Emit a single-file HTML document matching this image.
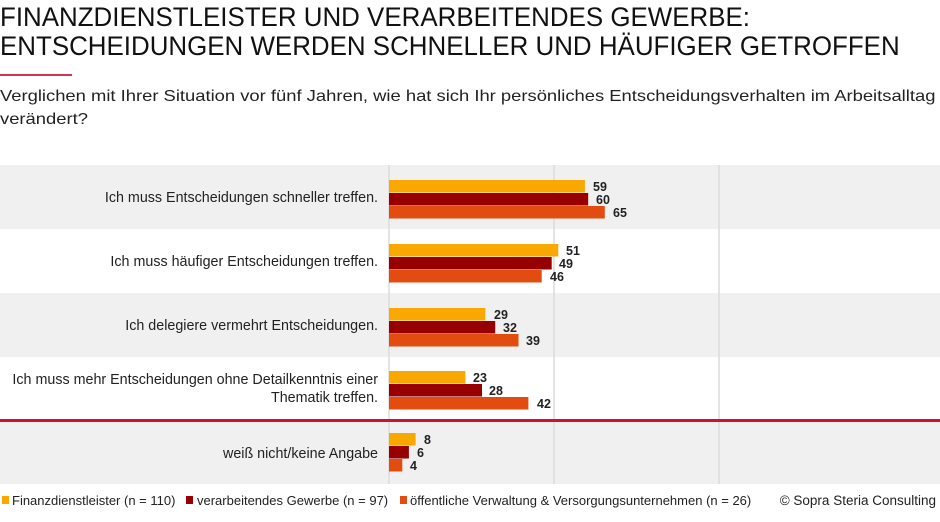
<!DOCTYPE html>
<html><head><meta charset="utf-8"><style>
body{margin:0;width:940px;height:517px;background:#fff;overflow:hidden;font-family:"Liberation Sans",sans-serif}
</style></head><body>
<svg width="940" height="517" xmlns="http://www.w3.org/2000/svg" font-family="Liberation Sans, sans-serif">
<g fill="#111" font-size="27" transform="scale(0.96,1)">
<text x="0" y="26">FINANZDIENSTLEISTER UND VERARBEITENDES GEWERBE:</text>
<text x="0" y="55">ENTSCHEIDUNGEN WERDEN SCHNELLER UND HÄUFIGER GETROFFEN</text>
</g>
<rect x="0" y="74" width="72" height="2" fill="#d6334f"/>
<g fill="#222" font-size="16" transform="scale(1.15,1)">
<text x="0" y="101">Verglichen mit Ihrer Situation vor fünf Jahren, wie hat sich Ihr persönliches Entscheidungsverhalten im Arbeitsalltag</text>
<text x="0" y="124">verändert?</text>
</g>
<rect x="0" y="165" width="940" height="64" fill="#f0f0f0"/>
<rect x="0" y="293" width="940" height="64" fill="#f0f0f0"/>
<rect x="0" y="421" width="940" height="63" fill="#f0f0f0"/>
<g stroke="#dcdcdc" stroke-width="1.5">
<line x1="389" y1="165" x2="389" y2="484"/><line x1="554" y1="165" x2="554" y2="484"/><line x1="719" y1="165" x2="719" y2="484"/>
</g>
<rect x="0" y="419" width="940" height="3" fill="#d0102e"/>
<g font-size="14.3" fill="#222" text-anchor="end">
<text x="378" y="202">Ich muss Entscheidungen schneller treffen.</text>
<text x="378" y="266">Ich muss häufiger Entscheidungen treffen.</text>
<text x="378" y="330">Ich delegiere vermehrt Entscheidungen.</text>
<text x="378" y="384">Ich muss mehr Entscheidungen ohne Detailkenntnis einer</text>
<text x="378" y="402">Thematik treffen.</text>
<text x="378" y="458">weiß nicht/keine Angabe</text>
</g>
<g font-size="12.5" font-weight="bold" fill="#222">
<rect x="389" y="180" width="195.9" height="12.5" fill="#f9a800"/><text x="593" y="191">59</text>
<rect x="389" y="193" width="199.2" height="12.5" fill="#960000"/><text x="596" y="204">60</text>
<rect x="389" y="206" width="215.8" height="12.5" fill="#e24c10"/><text x="613" y="217">65</text>
<rect x="389" y="244" width="169.3" height="12.5" fill="#f9a800"/><text x="566" y="255">51</text>
<rect x="389" y="257" width="162.7" height="12.5" fill="#960000"/><text x="559" y="268">49</text>
<rect x="389" y="270" width="152.7" height="12.5" fill="#e24c10"/><text x="550" y="281">46</text>
<rect x="389" y="308" width="96.3" height="12.5" fill="#f9a800"/><text x="494" y="319">29</text>
<rect x="389" y="321" width="106.2" height="12.5" fill="#960000"/><text x="503" y="332">32</text>
<rect x="389" y="334" width="129.5" height="12.5" fill="#e24c10"/><text x="526" y="345">39</text>
<rect x="389" y="371" width="76.4" height="12.5" fill="#f9a800"/><text x="473" y="382">23</text>
<rect x="389" y="384" width="93" height="12.5" fill="#960000"/><text x="489" y="395">28</text>
<rect x="389" y="397" width="139.4" height="12.5" fill="#e24c10"/><text x="537" y="408">42</text>
<rect x="389" y="433" width="26.6" height="12.5" fill="#f9a800"/><text x="424" y="444">8</text>
<rect x="389" y="446" width="19.9" height="12.5" fill="#960000"/><text x="417" y="457">6</text>
<rect x="389" y="459" width="13.3" height="12.5" fill="#e24c10"/><text x="410" y="470">4</text>
</g>
<g font-size="13" fill="#222">
<rect x="2" y="496" width="7" height="8" fill="#f9a800"/><text x="12" y="505">Finanzdienstleister (n = 110)</text>
<rect x="186" y="496" width="7" height="8" fill="#960000"/><text x="197" y="505">verarbeitendes Gewerbe (n = 97)</text>
<rect x="400" y="496" width="7" height="8" fill="#e24c10"/><text x="410" y="505">öffentliche Verwaltung &amp; Versorgungsunternehmen (n = 26)</text>
<text x="936" y="505" text-anchor="end" font-size="13.5">© Sopra Steria Consulting</text>
</g>
</svg>
</body></html>
